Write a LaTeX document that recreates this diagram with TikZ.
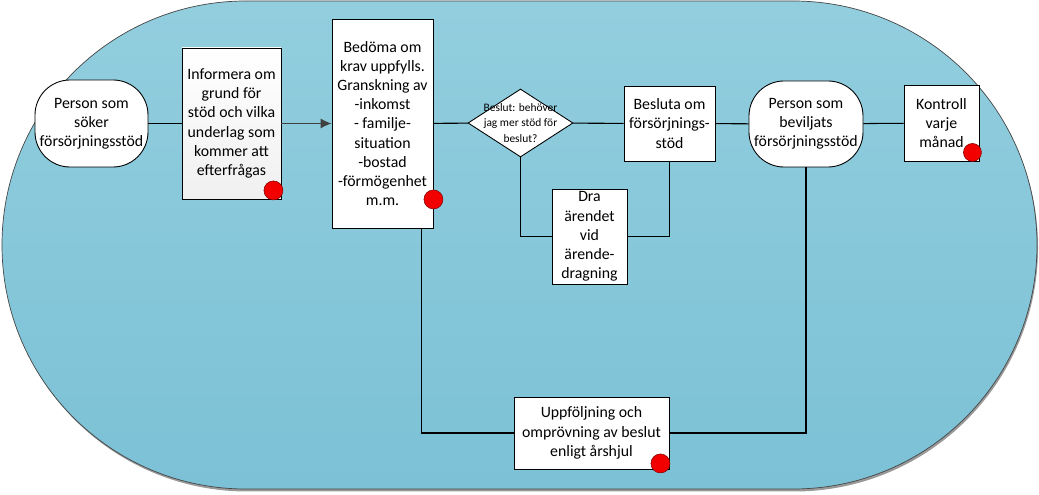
\documentclass[tikz,border=0pt]{standalone}
\usepackage{fontspec}
\setmainfont{Carlito}
\usetikzlibrary{arrows.meta,shapes.geometric}
\definecolor{poolTop}{RGB}{146,206,222}
\definecolor{poolBot}{RGB}{124,193,214}
\definecolor{rimGray}{RGB}{70,70,70}

\begin{document}
\begin{tikzpicture}[>=Latex, font=\fontsize{9}{10.9}\selectfont,
  box/.style={draw, fill=white, align=center, inner sep=0pt, line width=0.5pt},
  term/.style={box, rounded corners=0.7cm},
  choice/.style={draw, fill=white, diamond, inner sep=0pt, line width=0.5pt},
  flag/.style={circle, fill=red!95!black, draw=red!50!black, line width=0.3pt,
    minimum size=0.38cm, inner sep=0pt},
  link/.style={line width=0.6pt}]
\useasboundingbox (0,0) rectangle (20.78,9.90);
% --- Background pool ---
\fill[black!40, rounded corners=4.879cm] (0.07,0.07) rectangle (20.76,9.83);
\shade[top color=poolTop, bottom color=poolBot, draw=rimGray, line width=0.4pt,
  rounded corners=4.879cm] (0.04,0.12) rectangle (20.74,9.88);

% --- Main row ---
\node[term, minimum width=2.26cm, minimum height=1.74cm] (start) at (1.83,7.43)
  {Person som\\söker\\försörjningsstöd};
\node[box, top color=white, bottom color=black!6, minimum width=1.98cm,
  minimum height=3.02cm] (inform) at (4.63,7.43)
  {Informera om\\grund för\\stöd och vilka\\underlag som\\kommer att\\efterfrågas};
\node[box, minimum width=2.02cm, minimum height=4.18cm] (assess) at (7.65,7.43)
  {Bedöma om\\krav uppfylls.\\Granskning av\\-inkomst\\- familje-\\situation\\-bostad\\-förmögenhet\\m.m.};
\node[choice, minimum width=2.10cm, minimum height=1.36cm] (ask) at (10.41,7.44) {};
\node[align=center, font=\fontsize{6.5}{8.6}\selectfont] (asktext) at (ask.center)
  {Beslut: behöver\\jag mer stöd för\\beslut?};
\node[box, minimum width=1.82cm, minimum height=1.50cm] (decide) at (13.39,7.43)
  {Besluta om\\försörjnings-\\stöd};
\node[box, minimum width=1.50cm, minimum height=1.90cm] (defer) at (11.79,5.17)
  {Dra\\ärendet\\vid\\ärende-\\dragning};
\node[term, minimum width=2.28cm, minimum height=1.72cm] (granted) at (16.12,7.42)
  {Person som\\beviljats\\försörjningsstöd};
\node[box, minimum width=1.50cm, minimum height=1.52cm] (monthly) at (18.83,7.44)
  {Kontroll\\varje\\månad};
% --- Follow-up ---
\node[box, minimum width=3.10cm, minimum height=1.44cm] (review) at (11.83,1.24)
  {Uppföljning och\\omprövning av beslut\\enligt årshjul};

% --- Connectors ---
\draw[link] (start) -- (inform);
\draw[link, black!75, -{Latex[length=2.2mm, width=2mm]}] (inform) -- (assess);
\draw[link] (assess) -- (ask);
\draw[link] (ask) -- (decide);
\draw[link] (ask.south) |- (defer.west);
\draw[link] (defer.east) -| (decide.south);
\draw[link] (decide) -- (granted);
\draw[link] (granted) -- (monthly);
\draw[link] (granted.south) |- (review.east);
\draw[link] ([xshift=-0.24cm]assess.south east) |- (review.west);

% --- Red markers ---
\node[flag] (informflag) at ([shift={(-0.16,0.18)}]inform.south east) {};
\node[flag] (assessflag) at ([yshift=0.58cm]assess.south east) {};
\node[flag, minimum size=0.36cm] (monthlyflag) at ([shift={(-0.14,0.18)}]monthly.south east) {};
\node[flag] (reviewflag) at ([shift={(-0.18,0.12)}]review.south east) {};
\end{tikzpicture}
\end{document}
